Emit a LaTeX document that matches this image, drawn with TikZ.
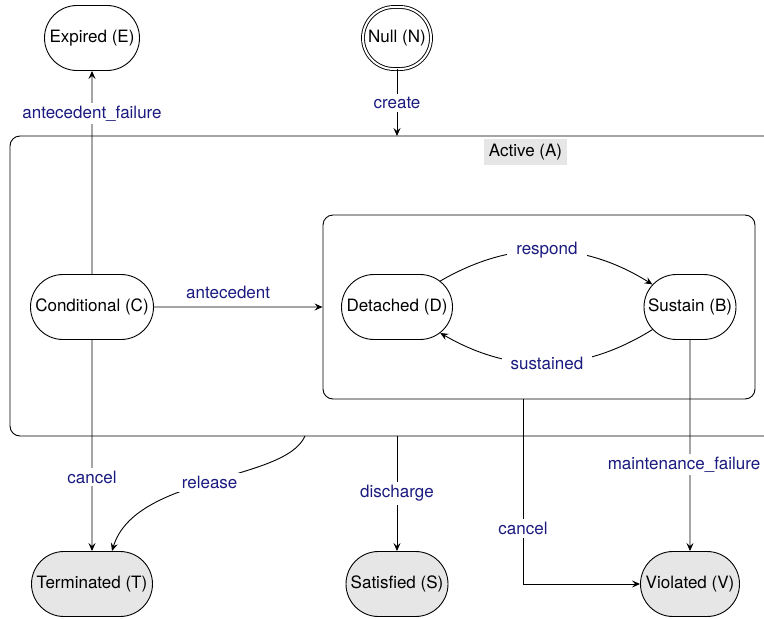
\documentclass[tikz,border=0pt]{standalone}
\usepackage{fontspec}
\setmainfont{TeX Gyre Heros}
\usetikzlibrary{arrows.meta}
\usetikzlibrary{shapes}
\definecolor{lnavy}{HTML}{1A1A80}
\definecolor{lgrau}{HTML}{E6E6E6}

\begin{document}
\begin{tikzpicture}[x=1pt,y=1pt,>={Stealth[length=8pt,width=7pt,inset=3pt]},
    every node/.style={font=\fontsize{17}{20}\selectfont},
    every edge/.style={draw=black,line width=0.9pt},
    state/.style={draw, rounded rectangle, minimum height=65pt, inner sep=2pt, fill=white, line width=0.9pt},
    final/.style={state, fill=lgrau},
    lbl/.style={text=lnavy, fill=white, inner sep=3pt}]
        \useasboundingbox (0,0) rectangle (764,-619);

        % outer Active box, cut off on the right
        \draw[line width=0.9pt, rounded corners=10pt] (764,-136) -- (10,-136) -- (10,-436) -- (764,-436);
        \node[fill=lgrau, minimum width=83pt, minimum height=26pt, inner sep=2pt] (A) at (525.5,-152) {Active (A)};
        \coordinate (Atop) at (397,-136);
        \coordinate (Arel) at (305,-436);
        \coordinate (Adis) at (397,-436);

        \node[draw, rectangle, rounded corners=10pt, line width=0.9pt, minimum width=432pt, minimum height=184pt] (Dbox) at (539,-307) {};

        \node[state] (E) at (92,-38) [minimum width=99pt] {Expired (E)};

        \node[state, double, double distance=2pt, minimum width=72pt, minimum height=62pt] (N) at (397,-38) {Null (N)};

        \node[state, minimum width=127pt] (C) at (92,-307) {Conditional (C)};

        \node[state, minimum width=115pt] (D) at (397,-307) {Detached (D)};

        \node[state, minimum width=96pt] (B) at (690,-307) {Sustain (B)};

        \node[final, minimum width=125pt] (T) at (92,-584) {Terminated (T)};

        \node[final, minimum width=106pt] (S) at (397,-584) {Satisfied (S)};

        \node[final, minimum width=103pt] (V) at (690,-584) {Violated (V)};


        \path [->](N) edge node[lbl] {create} (Atop);
        \path [->](C) edge node[lbl, pos=.79] {antecedent\_failure} (E);
        \path [->](C) edge node[text=lnavy, above=4pt, pos=.44] {antecedent} (Dbox.west);
        \path [->](D) edge[bend left=31] node[lbl, inner xsep=9pt] {respond} (B);
        \path [->](B) edge[bend left=31] node[lbl, inner xsep=9pt] {sustained} (D);
        \path [->](C) edge node[lbl, pos=.65] {cancel} (T);
        \path [->](Adis) edge node[lbl] {discharge} (S);
        \path [->](B) edge node[lbl, pos=.59, inner xsep=1pt, xshift=-6pt] {maintenance\_failure} (V);

        \draw[->, line width=0.9pt] (Arel) .. controls (285,-482) and (135,-475) .. node[lbl, inner xsep=6pt] {release} ([xshift=20pt]T.north);
        \draw[->, line width=0.9pt] ([xshift=-16pt]Dbox.south) |- node[lbl, pos=.35] {cancel} (V);

    \end{tikzpicture}
\end{document}
